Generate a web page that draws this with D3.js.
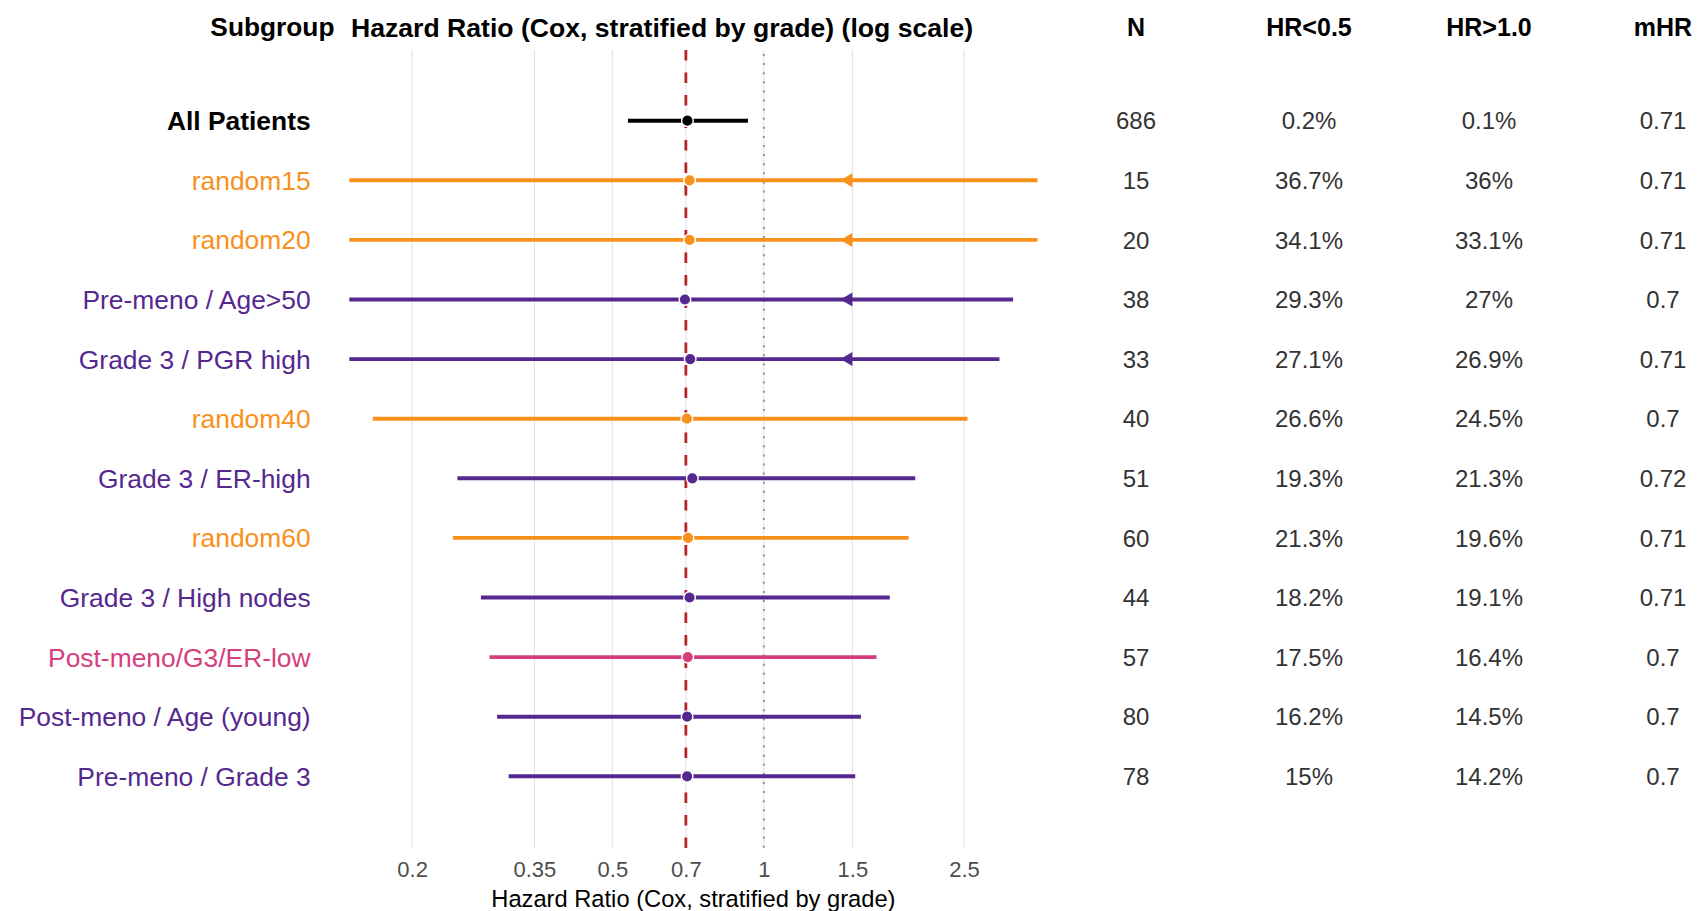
<!DOCTYPE html>
<html>
<head>
<meta charset="utf-8">
<script src="https://cdn.jsdelivr.net/npm/d3@7"></script>
<style>
  html, body { margin: 0; padding: 0; background: #fff; }
  svg { display: block; font-family: "Liberation Sans", Arial, Helvetica, sans-serif; }
</style>
</head>
<body>
<svg id="chart" width="1703" height="911"></svg>
<script>
// ---- data ----
const subgroups = ["All Patients","random15","random20","Pre-meno / Age>50","Grade 3 / PGR high","random40","Grade 3 / ER-high","random60","Grade 3 / High nodes","Post-meno/G3/ER-low","Post-meno / Age (young)","Pre-meno / Grade 3"];
const groupType = ["all","random","random","subgroup","subgroup","random","subgroup","random","subgroup","highlight","subgroup","subgroup"];
const hrPoint = [0.705,0.712,0.712,0.697,0.714,0.703,0.721,0.707,0.712,0.706,0.704,0.704];
const ciLow   = [0.537,0.15,0.15,0.15,0.15,0.167,0.246,0.241,0.274,0.285,0.295,0.311];
const ciHigh  = [0.93,3.5,3.5,3.13,2.94,2.54,2.00,1.94,1.78,1.675,1.56,1.52];
const arrowAt = [null,1.42,1.42,1.42,1.42,null,null,null,null,null,null,null];
const nVals   = ["686","15","20","38","33","40","51","60","44","57","80","78"];
const pLow    = ["0.2%","36.7%","34.1%","29.3%","27.1%","26.6%","19.3%","21.3%","18.2%","17.5%","16.2%","15%"];
const pHigh   = ["0.1%","36%","33.1%","27%","26.9%","24.5%","21.3%","19.6%","19.1%","16.4%","14.5%","14.2%"];
const mHR     = ["0.71","0.71","0.71","0.7","0.71","0.7","0.72","0.71","0.71","0.7","0.7","0.7"];
const xTicks  = [0.2,0.35,0.5,0.7,1,1.5,2.5];
const refMedian = 0.7;
const refNull = 1;
const columnHeaders = ["N","HR<0.5","HR>1.0","mHR"];

// ---- styles ----
const colors = { all: "#000000", random: "#F8901C", subgroup: "#55288F", highlight: "#D5407C" };

const svg = d3.select("#chart");
const panel = { left: 349.3, right: 1037.5, top: 50, bottom: 848 };

const x = d3.scaleLog().domain([0.15, 3.5]).range([panel.left, panel.right]);
const y = d3.scalePoint().domain(d3.range(subgroups.length)).range([120.7, 776.3]);
const colX = d3.scaleOrdinal().domain(columnHeaders).range([1136, 1309, 1489, 1663]);

const rows = subgroups.map((s, i) => ({
  label: s, type: groupType[i], hr: hrPoint[i], lo: ciLow[i], hi: ciHigh[i],
  arrow: arrowAt[i], cols: [nVals[i], pLow[i], pHigh[i], mHR[i]], i
}));

// grid lines
svg.append("g").selectAll("line").data(xTicks).join("line")
  .attr("x1", d => x(d)).attr("x2", d => x(d))
  .attr("y1", panel.top).attr("y2", panel.bottom)
  .attr("stroke", "#E3E3E3").attr("stroke-width", 1.1);

// reference lines
svg.append("line")
  .attr("x1", x(refNull)).attr("x2", x(refNull))
  .attr("y1", panel.top + 4).attr("y2", panel.bottom)
  .attr("stroke", "#8F8F8F").attr("stroke-width", 2)
  .attr("stroke-dasharray", "2 7.1");

svg.append("line")
  .attr("x1", x(refMedian)).attr("x2", x(refMedian))
  .attr("y1", panel.top).attr("y2", panel.bottom)
  .attr("stroke", "#B8232A").attr("stroke-width", 2.8)
  .attr("stroke-dasharray", "10.5 12");

// CI segments
const marks = svg.append("g");
marks.selectAll("line.ci").data(rows).join("line")
  .attr("class", "ci")
  .attr("x1", d => x(d.lo)).attr("x2", d => x(d.hi))
  .attr("y1", d => y(d.i)).attr("y2", d => y(d.i))
  .attr("stroke", d => colors[d.type]).attr("stroke-width", 3.9);

// arrows
marks.selectAll("path.arrow").data(rows.filter(d => d.arrow != null)).join("path")
  .attr("class", "arrow")
  .attr("d", d => {
    const tx = x(d.arrow), ty = y(d.i);
    return `M${tx},${ty} L${tx + 12},${ty - 7} L${tx + 12},${ty + 7} Z`;
  })
  .attr("fill", d => colors[d.type]);

// points
marks.selectAll("circle").data(rows).join("circle")
  .attr("cx", d => x(d.hr)).attr("cy", d => y(d.i)).attr("r", 5.8)
  .attr("fill", d => colors[d.type]).attr("stroke", "#fff").attr("stroke-width", 1.4);

// row labels
svg.append("g").selectAll("text").data(rows).join("text")
  .attr("x", 310.6).attr("y", d => y(d.i)).attr("dy", "0.36em")
  .attr("text-anchor", "end")
  .attr("font-size", 26.4)
  .attr("font-weight", d => d.type === "all" ? "bold" : "normal")
  .attr("fill", d => colors[d.type])
  .text(d => d.label);

// table values
const table = svg.append("g");
columnHeaders.forEach((h, ci) => {
  table.append("g").selectAll("text").data(rows).join("text")
    .attr("x", colX(h)).attr("y", d => y(d.i)).attr("dy", "0.36em")
    .attr("text-anchor", "middle").attr("font-size", 24).attr("fill", "#333333")
    .text(d => d.cols[ci]);
});

// headers
const headerY = 27;
svg.append("text").attr("x", 334.5).attr("y", headerY).attr("dy", "0.36em")
  .attr("text-anchor", "end").attr("font-size", 26.3).attr("font-weight", "bold")
  .text("Subgroup");
svg.append("text").attr("x", 351).attr("y", headerY).attr("dy", "0.36em")
  .attr("text-anchor", "start").attr("font-size", 26.6).attr("font-weight", "bold")
  .text("Hazard Ratio (Cox, stratified by grade) (log scale)");
svg.append("g").selectAll("text").data(columnHeaders).join("text")
  .attr("x", d => colX(d)).attr("y", headerY).attr("dy", "0.36em")
  .attr("text-anchor", "middle").attr("font-size", 25).attr("font-weight", "bold")
  .text(d => d);

// x axis
const axis = d3.axisBottom(x).tickValues(xTicks).tickFormat(d3.format("~g")).tickSize(0).tickPadding(0);
const ax = svg.append("g").attr("transform", `translate(0,${panel.bottom})`).call(axis);
ax.select(".domain").remove();
ax.selectAll("text").attr("font-size", 22).attr("fill", "#4D4D4D")
  .attr("font-family", "'Liberation Sans', Arial, sans-serif")
  .attr("y", 21).attr("dy", "0.36em");

svg.append("text").attr("x", (panel.left + panel.right) / 2).attr("y", 898.5).attr("dy", "0.34em")
  .attr("text-anchor", "middle").attr("font-size", 23.7).attr("fill", "#000")
  .text("Hazard Ratio (Cox, stratified by grade)");
</script>
</body>
</html>
